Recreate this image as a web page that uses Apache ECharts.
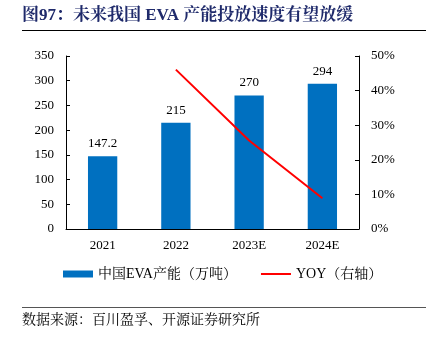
<!DOCTYPE html>
<html><head><meta charset="utf-8">
<script src="https://cdn.jsdelivr.net/npm/echarts@6/dist/echarts.min.js"></script>
<style>html,body{margin:0;padding:0;background:#fff}#c{width:426px;height:339px}</style>
</head><body><div id="c"></div>
<script>
const categories = ['2021', '2022', '2023E', '2024E'];
const capacity = [147.2, 215, 270, 294];
const yoy = [null, 0.4606, 0.2558, 0.0889];
const leftTicks = [0, 50, 100, 150, 200, 250, 300, 350];
const titleText = '图97：未来我国 EVA 产能投放速度有望放缓';
const sourceText = '数据来源：百川盈孚、开源证券研究所';
const serif = '"Liberation Serif","Noto Serif CJK SC","Noto Sans CJK SC",serif';
const chart = echarts.init(document.getElementById('c'));
chart.setOption({
  animation: false,
  textStyle: {fontFamily: serif},
  grid: {left: 66, right: 67, top: 56, bottom: 110, containLabel: false},
  legend: {
    bottom: 53, left: 58, itemGap: 24,
    textStyle: {fontFamily: serif, fontSize: 14, color: '#000'},
    data: [
      {name: '中国EVA产能（万吨）', icon: 'rect', itemStyle: {color: '#0070C0'}},
      {name: 'YOY（右轴）', icon: 'path://M0,0 L30,0 L30,2 L0,2 Z', itemStyle: {color: '#FF0000'}}
    ],
    itemWidth: 30, itemHeight: 7
  },
  xAxis: {
    type: 'category', data: categories,
    axisLine: {lineStyle: {color: '#000'}},
    axisTick: {show: false},
    axisLabel: {color: '#000', fontSize: 13, fontFamily: serif, margin: 10}
  },
  yAxis: [
    {type: 'value', min: 0, max: 350, interval: 50, splitLine: {show: false},
     axisLine: {show: true, lineStyle: {color: '#000'}},
     axisTick: {show: true, inside: true, length: 4, lineStyle: {color: '#000'}},
     axisLabel: {color: '#000', fontSize: 13, fontFamily: serif, margin: 12}},
    {type: 'value', min: 0, max: 0.5, interval: 0.1, splitLine: {show: false},
     axisLine: {show: true, lineStyle: {color: '#000'}},
     axisTick: {show: true, inside: true, length: 4, lineStyle: {color: '#000'}},
     axisLabel: {color: '#000', fontSize: 13, fontFamily: serif, margin: 12,
       formatter: v => Math.round(v * 100) + '%'}}
  ],
  series: [
    {name: '中国EVA产能（万吨）', type: 'bar', data: capacity, barWidth: '40%',
     itemStyle: {color: '#0070C0'},
     label: {show: true, position: 'top', distance: 6, color: '#000', fontSize: 13, fontFamily: serif}},
    {name: 'YOY（右轴）', type: 'line', yAxisIndex: 1, data: yoy, symbol: 'none',
     lineStyle: {color: '#FF0000', width: 2}, itemStyle: {color: '#FF0000'}}
  ],
  graphic: [
    {type: 'text', left: 22, top: 7, style: {text: titleText, fill: '#1F2A6B',
      font: 'bold 17px ' + serif}},
    {type: 'line', shape: {x1: 22, y1: 30.5, x2: 426, y2: 30.5}, style: {stroke: '#000', lineWidth: 1}},
    {type: 'line', shape: {x1: 22, y1: 307.5, x2: 426, y2: 307.5}, style: {stroke: '#555', lineWidth: 1}},
    {type: 'text', left: 22, top: 313, style: {text: sourceText, fill: '#000', font: '14px ' + serif}}
  ]
});
</script></body></html>
